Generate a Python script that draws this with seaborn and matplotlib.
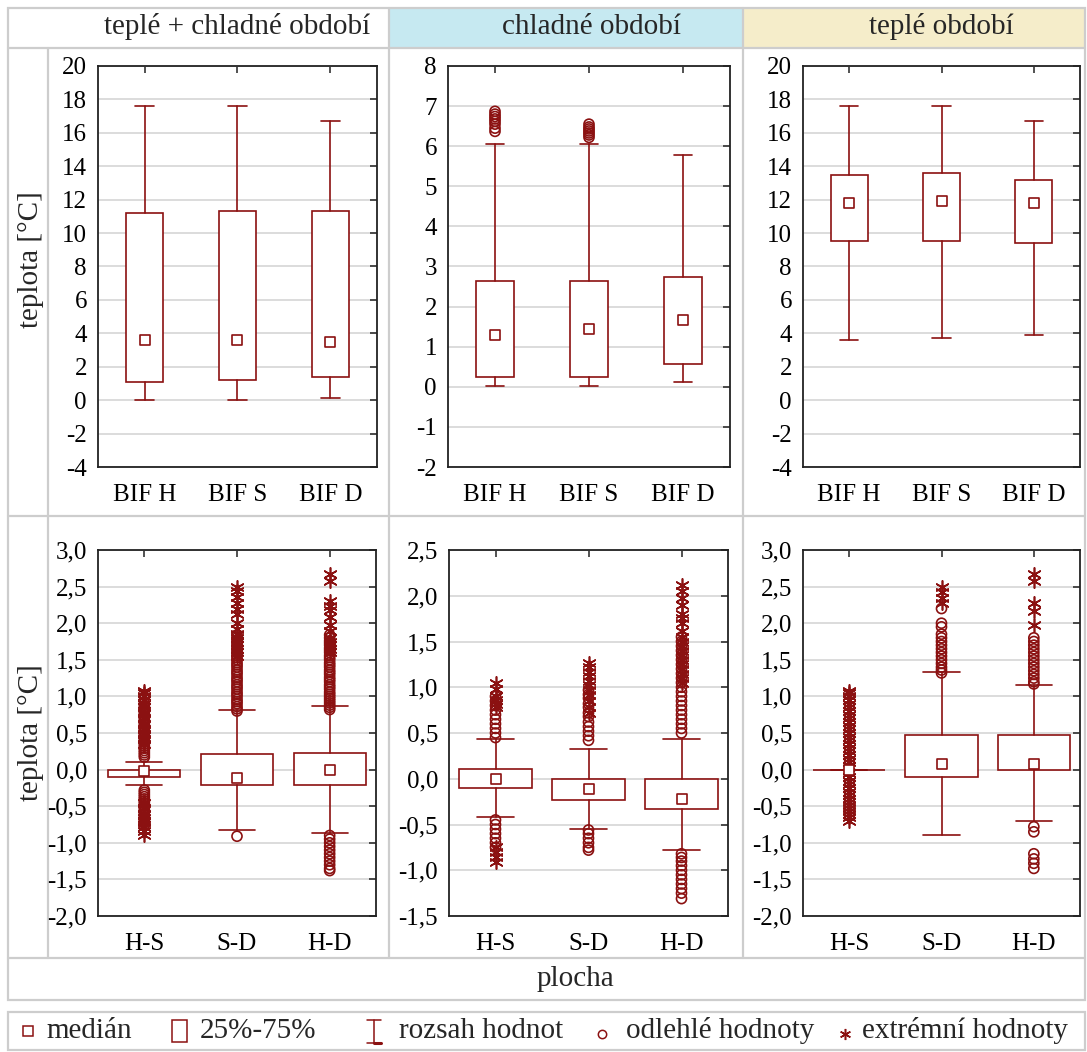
import numpy as np
import pandas as pd
import matplotlib
matplotlib.use("Agg")
import matplotlib.pyplot as plt
from matplotlib.patches import Rectangle
from matplotlib.ticker import FixedLocator, FuncFormatter
import seaborn as sns

# ---------------- categories ----------------
SITES = ["BIF H", "BIF S", "BIF D"]
PAIRS = ["H-S", "S-D", "H-D"]

# ---------------- absolute temperature: whole year ----------------
YEAR_MED = [3.6, 3.6, 3.5]
YEAR_Q1 = [1.1, 1.2, 1.4]
YEAR_Q3 = [11.2, 11.3, 11.3]
YEAR_LO = [0.0, 0.0, 0.1]
YEAR_HI = [17.6, 17.6, 16.7]
YEAR_OUT = [[], [], []]
YEAR_EXT = [[], [], []]

# ---------------- absolute temperature: cold season ----------------
COLD_MED = [1.30, 1.45, 1.66]
COLD_Q1 = [0.25, 0.25, 0.56]
COLD_Q3 = [2.65, 2.65, 2.75]
COLD_LO = [0.03, 0.03, 0.13]
COLD_HI = [6.05, 6.05, 5.77]
COLD_OUT = [[6.37, 6.45, 6.55, 6.62, 6.68, 6.74, 6.80, 6.87],
            [6.22, 6.28, 6.33, 6.38, 6.43, 6.48, 6.55],
            []]
COLD_EXT = [[], [], []]

# ---------------- absolute temperature: warm season ----------------
WARM_MED = [11.8, 11.9, 11.8]
WARM_Q1 = [9.5, 9.5, 9.4]
WARM_Q3 = [13.5, 13.6, 13.2]
WARM_LO = [3.6, 3.7, 3.9]
WARM_HI = [17.6, 17.6, 16.7]
WARM_OUT = [[], [], []]
WARM_EXT = [[], [], []]

# ---------------- site differences: whole year ----------------
DYEAR_MED = [-0.02, -0.11, -0.01]
DYEAR_Q1 = [-0.10, -0.21, -0.21]
DYEAR_Q3 = [0.00, 0.21, 0.22]
DYEAR_LO = [-0.21, -0.83, -0.87]
DYEAR_HI = [0.11, 0.82, 0.875]
DYEAR_OUT = [
    [0.17, 0.20, 0.23, 0.26, 0.29, 0.32, 0.35, 0.38, 0.41, 0.44, 0.47, 0.50,
     0.53, 0.56, 0.59, 0.62, 0.65, 0.68, 0.71, 0.74, 0.77, 0.80, 0.83, 0.86,
     0.90, -0.28, -0.31, -0.34, -0.37, -0.40, -0.43, -0.46, -0.49, -0.52,
     -0.55, -0.58, -0.61, -0.64, -0.67, -0.70, -0.73, -0.76],
    [0.80, 0.83, 0.86, 0.90, 0.93, 0.96, 1.00, 1.03, 1.06, 1.10, 1.13, 1.16,
     1.20, 1.23, 1.26, 1.30, 1.33, 1.36, 1.40, 1.43, 1.46, 1.50, 1.53, 1.56,
     1.60, 1.63, 1.66, 1.70, 1.73, 1.76, 1.80, 1.84, -0.91],
    [0.82, 0.85, 0.88, 0.91, 0.94, 0.97, 1.00, 1.03, 1.06, 1.10, 1.13, 1.16,
     1.20, 1.23, 1.26, 1.30, 1.33, 1.36, 1.40, 1.43, 1.46, 1.50, 1.53, 1.56,
     1.60, 1.63, 1.66, 1.70, 1.73, 1.76, 1.80, 1.84, -0.90, -0.95, -1.00,
     -1.05, -1.10, -1.15, -1.20, -1.25, -1.30, -1.35, -1.38],
]
DYEAR_EXT = [
    [0.35, 0.42, 0.48, 0.55, 0.62, 0.70, 0.78, 0.85, 0.90, 0.95, 1.00, 1.04,
     1.08, -0.45, -0.52, -0.60, -0.66, -0.72, -0.78, -0.84, -0.90],
    [1.55, 1.60, 1.65, 1.70, 1.75, 1.80, 1.85, 1.92, 2.00, 2.12, 2.20,
     2.28, 2.36, 2.44, 2.50],
    [1.60, 1.65, 1.70, 1.75, 1.80, 1.90, 1.98, 2.08, 2.18, 2.24, 2.30,
     2.58, 2.67],
]

# ---------------- site differences: cold season ----------------
DCOLD_MED = [0.00, -0.11, -0.22]
DCOLD_Q1 = [-0.10, -0.23, -0.33]
DCOLD_Q3 = [0.11, 0.00, 0.00]
DCOLD_LO = [-0.42, -0.55, -0.78]
DCOLD_HI = [0.43, 0.32, 0.43]
DCOLD_OUT = [
    [0.45, 0.50, 0.55, 0.60, 0.65, 0.70, 0.75, 0.80, 0.85, 0.90,
     -0.45, -0.50, -0.55, -0.60, -0.65, -0.70, -0.75],
    [0.42, 0.47, 0.52, 0.57, 0.62, 0.68, 0.72, 0.78, 0.82, 0.88, 0.92, 0.97,
     -0.56, -0.60, -0.65, -0.70, -0.75, -0.78],
    [0.50, 0.55, 0.60, 0.65, 0.70, 0.75, 0.80, 0.85, 0.90, 0.95, 1.00, 1.05,
     1.10, 1.15, 1.20, 1.25, 1.30, 1.35, 1.40, 1.45, 1.50, 1.55,
     -0.82, -0.86, -0.90, -0.95, -1.00, -1.05, -1.10, -1.15, -1.20, -1.25,
     -1.31],
]
DCOLD_EXT = [
    [0.78, 0.82, 0.86, 0.90, 0.98, 1.05, -0.75, -0.80, -0.85, -0.91],
    [0.72, 0.78, 0.85, 0.92, 0.97, 1.02, 1.07, 1.12, 1.17, 1.22, 1.27],
    [1.05, 1.10, 1.15, 1.20, 1.25, 1.30, 1.35, 1.40, 1.45, 1.50, 1.55,
     1.62, 1.70, 1.76, 1.80, 1.90, 1.97, 2.05, 2.12],
]

# ---------------- site differences: warm season ----------------
DWARM_MED = [0.00, 0.08, 0.08]
DWARM_Q1 = [0.00, -0.10, 0.00]
DWARM_Q3 = [0.00, 0.47, 0.47]
DWARM_LO = [0.00, -0.90, -0.70]
DWARM_HI = [0.00, 1.335, 1.16]
DWARM_OUT = [
    [],
    [1.32, 1.36, 1.40, 1.45, 1.50, 1.55, 1.60, 1.65, 1.70, 1.75, 1.80, 1.85,
     1.95, 2.00, 2.20],
    [1.17, 1.20, 1.25, 1.30, 1.35, 1.40, 1.45, 1.50, 1.55, 1.60, 1.65, 1.70,
     1.75, 1.80, -0.78, -0.85, -1.15, -1.22, -1.28, -1.35],
]
DWARM_EXT = [
    [-0.70, -0.65, -0.60, -0.56, -0.52, -0.48, -0.44, -0.40, -0.35, -0.30,
     -0.25, -0.20, -0.15, -0.10, -0.05, 0.05, 0.10, 0.15, 0.20, 0.25, 0.30,
     0.35, 0.40, 0.45, 0.50, 0.55, 0.60, 0.65, 0.70, 0.75, 0.80, 0.85, 0.90,
     0.95, 1.00, 1.05, 1.08],
    [2.28, 2.35, 2.42, 2.50],
    [1.97, 2.17, 2.27, 2.57, 2.67],
]

# ---------------- labels ----------------
COL_TITLES = ["teplé + chladné období", "chladné období", "teplé období"]
Y_LABEL = "teplota [°C]"
X_LABEL = "plocha"
LEGEND_TEXTS = ["medián", "25%-75%", "rozsah hodnot", "odlehlé hodnoty", "extrémní hodnoty"]

# ---------------- style ----------------
sns.set_style("white")
plt.rcParams["font.family"] = ["Liberation Serif", "DejaVu Serif"]
plt.rcParams["axes.unicode_minus"] = False

RED = "#8b1111"
GRID = "#d9d9d9"
FRAME = "#cdcdcd"
W, H = 1087, 1052
FS_TICK = 18
FS_TEXT = 21

fig = plt.figure(figsize=(W / 100, H / 100), dpi=100)

# background layer in pixel coordinates for the table frame, headers and legend
bg = fig.add_axes([0, 0, 1, 1])
bg.set_xlim(0, W)
bg.set_ylim(H, 0)
bg.axis("off")

bg.add_patch(Rectangle((389, 8), 354, 40, facecolor="#c6e9f1", edgecolor="none"))
bg.add_patch(Rectangle((743, 8), 342, 40, facecolor="#f5edca", edgecolor="none"))
frame_kw = dict(color=FRAME, lw=1.6)
bg.add_patch(Rectangle((8, 8), 1077, 992, fill=False, edgecolor=FRAME, lw=1.6))
for yy in (48, 516, 958):
    bg.plot([8, 1085], [yy, yy], **frame_kw)
for xx in (389, 743):
    bg.plot([xx, xx], [8, 958], **frame_kw)
bg.plot([48, 48], [48, 958], **frame_kw)
bg.add_patch(Rectangle((8, 1012), 1077, 38, fill=False, edgecolor=FRAME, lw=1.6))

for txt, cx in zip(COL_TITLES, (237, 592, 941)):
    bg.text(cx, 27, txt, ha="center", va="center", fontsize=FS_TEXT)
for cy in (260, 733):
    bg.text(31, cy, Y_LABEL, ha="center", va="center", rotation=90, fontsize=FS_TEXT)
bg.text(575, 979, X_LABEL, ha="center", va="center", fontsize=FS_TEXT)

# legend row
ly = 1031
bg.plot([28], [ly], marker="s", ms=7, mfc="white", mec=RED, mew=1.1)
bg.text(46, ly, LEGEND_TEXTS[0], ha="left", va="center", fontsize=FS_TEXT)
bg.add_patch(Rectangle((172, 1020), 15, 22, facecolor="white", edgecolor=RED, lw=1.1))
bg.text(200, ly, LEGEND_TEXTS[1], ha="left", va="center", fontsize=FS_TEXT)
bg.plot([374, 374], [1020, 1043], color=RED, lw=1.1)
bg.plot([367, 381], [1020, 1020], color=RED, lw=1.1)
bg.plot([367, 381], [1043, 1043], color=RED, lw=1.1)
bg.plot([374, 381], [1043, 1043], color=RED, lw=2.2)
bg.text(399, ly, LEGEND_TEXTS[2], ha="left", va="center", fontsize=FS_TEXT)
bg.plot([602], [ly + 3], marker="o", ms=6, mfc="none", mec=RED, mew=1.1)
bg.text(626, ly, LEGEND_TEXTS[3], ha="left", va="center", fontsize=FS_TEXT)
bg.plot([845], [ly + 3], marker=(6, 2, 0), ms=8, color=RED, mew=1.1)
bg.text(862, ly, LEGEND_TEXTS[4], ha="left", va="center", fontsize=FS_TEXT)


def px_axes(left, top, right, bottom):
    return fig.add_axes([left / W, 1 - bottom / H, (right - left) / W, (bottom - top) / H])


def comma_fmt(v, _):
    return f"{v:.1f}".replace(".", ",")


def int_fmt(v, _):
    return f"{v:.0f}"


def draw_panel(ax, cats, med, q1, q3, lo, hi, out, ext, width, ylim, step, fmt):
    stats = [dict(med=m, q1=a, q3=b, whislo=l, whishi=h, fliers=[])
             for m, a, b, l, h in zip(med, q1, q3, lo, hi)]
    ax.bxp(stats, positions=range(len(cats)), widths=width, capwidths=width / 2,
           showfliers=False, patch_artist=True,
           boxprops=dict(facecolor="white", edgecolor=RED, linewidth=1.2),
           whiskerprops=dict(color=RED, linewidth=1.2),
           capprops=dict(color=RED, linewidth=1.2),
           medianprops=dict(linewidth=0))

    pos_o = [i for i, vals in enumerate(out) for _ in vals]
    val_o = [v for vals in out for v in vals]
    if val_o:
        sns.scatterplot(data=pd.DataFrame({"pos": pos_o, "val": val_o}), x="pos", y="val",
                        marker="o", s=52, color=RED, facecolors="none", edgecolor=RED,
                        linewidth=1.2, zorder=4, legend=False, ax=ax)
    pos_e = [i for i, vals in enumerate(ext) for _ in vals]
    val_e = [v for vals in ext for v in vals]
    if val_e:
        sns.scatterplot(data=pd.DataFrame({"pos": pos_e, "val": val_e}), x="pos", y="val",
                        marker=(6, 2, 0), s=90, color=RED, linewidth=1.2,
                        zorder=5, legend=False, ax=ax)
    sns.scatterplot(data=pd.DataFrame({"pos": range(len(cats)), "val": med}), x="pos", y="val",
                    marker="s", s=62, color=RED, facecolors="white", edgecolor=RED,
                    linewidth=1.2, zorder=6, legend=False, ax=ax)

    ax.set_xlim(-0.5, len(cats) - 0.5)
    ax.set_ylim(*ylim)
    ax.set_xticks(range(len(cats)))
    ax.set_xticklabels(cats)
    ticks = np.arange(ylim[0], ylim[1] + step / 2, step)
    ax.yaxis.set_major_locator(FixedLocator(ticks))
    ax.yaxis.set_major_formatter(FuncFormatter(fmt))
    ax.set_xlabel("")
    ax.set_ylabel("")
    ax.set_axisbelow(True)
    ax.yaxis.grid(True, color=GRID, lw=1.3)
    ax.xaxis.grid(False)
    for sp in ax.spines.values():
        sp.set_visible(True)
        sp.set_color("#222222")
        sp.set_linewidth(1.3)
    ax.tick_params(axis="both", direction="in", length=5, width=1.1, colors="#222222",
                   labelcolor="black", top=True, right=True, labelsize=FS_TICK)
    ax.tick_params(axis="x", pad=12)
    ax.tick_params(axis="y", pad=8)


panels = [
    ((98, 66, 377, 467), SITES, YEAR_MED, YEAR_Q1, YEAR_Q3, YEAR_LO, YEAR_HI,
     YEAR_OUT, YEAR_EXT, 0.4, (-4, 20), 2, int_fmt),
    ((448, 66, 730, 467), SITES, COLD_MED, COLD_Q1, COLD_Q3, COLD_LO, COLD_HI,
     COLD_OUT, COLD_EXT, 0.4, (-2, 8), 1, int_fmt),
    ((803, 66, 1080, 467), SITES, WARM_MED, WARM_Q1, WARM_Q3, WARM_LO, WARM_HI,
     WARM_OUT, WARM_EXT, 0.4, (-4, 20), 2, int_fmt),
    ((98, 550, 376, 916), PAIRS, DYEAR_MED, DYEAR_Q1, DYEAR_Q3, DYEAR_LO, DYEAR_HI,
     DYEAR_OUT, DYEAR_EXT, 0.78, (-2.0, 3.0), 0.5, comma_fmt),
    ((449, 550, 728, 916), PAIRS, DCOLD_MED, DCOLD_Q1, DCOLD_Q3, DCOLD_LO, DCOLD_HI,
     DCOLD_OUT, DCOLD_EXT, 0.78, (-1.5, 2.5), 0.5, comma_fmt),
    ((803, 550, 1080, 916), PAIRS, DWARM_MED, DWARM_Q1, DWARM_Q3, DWARM_LO, DWARM_HI,
     DWARM_OUT, DWARM_EXT, 0.78, (-2.0, 3.0), 0.5, comma_fmt),
]

for box, *args in panels:
    draw_panel(px_axes(*box), *args)

fig.savefig("out.png", dpi=100, facecolor="white")
